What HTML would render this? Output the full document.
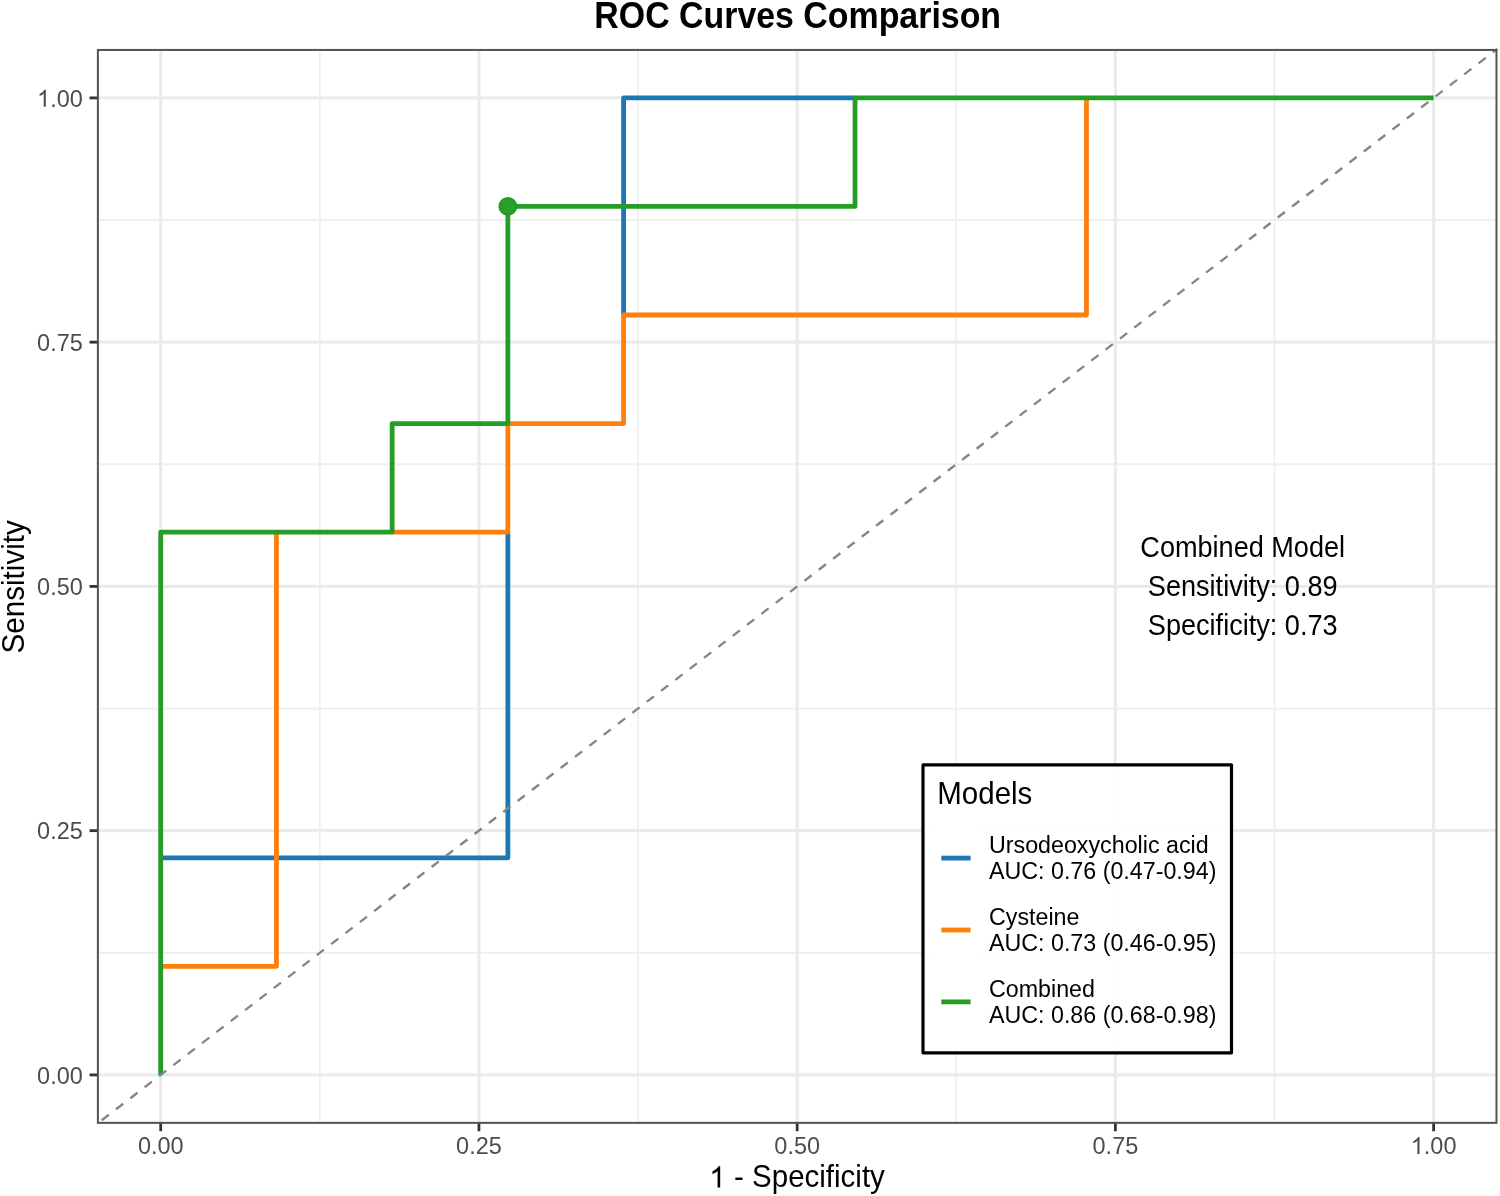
<!DOCTYPE html>
<html><head><meta charset="utf-8"><title>ROC Curves Comparison</title>
<style>html,body{margin:0;padding:0;background:#fff;}body{width:1500px;height:1196px;overflow:hidden;}svg{display:block;}text{font-family:"Liberation Sans", sans-serif;}</style></head><body>
<svg width="1500" height="1196" viewBox="0 0 1500 1196">
<rect x="0" y="0" width="1500" height="1196" fill="#ffffff"/>
<defs><filter id="soft" x="0" y="0" width="1500" height="1196" filterUnits="userSpaceOnUse"><feGaussianBlur stdDeviation="0.42"/></filter></defs>
<g filter="url(#soft)">
<g stroke="#ebebeb" fill="none">
<line x1="319.83" y1="49.05" x2="319.83" y2="1123.75" stroke-width="1.8" stroke="#efefef"/>
<line x1="97.08" y1="952.78" x2="1497.26" y2="952.78" stroke-width="1.8" stroke="#efefef"/>
<line x1="638.06" y1="49.05" x2="638.06" y2="1123.75" stroke-width="1.8" stroke="#efefef"/>
<line x1="97.08" y1="708.53" x2="1497.26" y2="708.53" stroke-width="1.8" stroke="#efefef"/>
<line x1="956.28" y1="49.05" x2="956.28" y2="1123.75" stroke-width="1.8" stroke="#efefef"/>
<line x1="97.08" y1="464.27" x2="1497.26" y2="464.27" stroke-width="1.8" stroke="#efefef"/>
<line x1="1274.51" y1="49.05" x2="1274.51" y2="1123.75" stroke-width="1.8" stroke="#efefef"/>
<line x1="97.08" y1="220.02" x2="1497.26" y2="220.02" stroke-width="1.8" stroke="#efefef"/>
<line x1="160.72" y1="49.05" x2="160.72" y2="1123.75" stroke-width="3.1"/>
<line x1="97.08" y1="1074.90" x2="1497.26" y2="1074.90" stroke-width="3.1"/>
<line x1="478.94" y1="49.05" x2="478.94" y2="1123.75" stroke-width="3.1"/>
<line x1="97.08" y1="830.65" x2="1497.26" y2="830.65" stroke-width="3.1"/>
<line x1="797.17" y1="49.05" x2="797.17" y2="1123.75" stroke-width="3.1"/>
<line x1="97.08" y1="586.40" x2="1497.26" y2="586.40" stroke-width="3.1"/>
<line x1="1115.39" y1="49.05" x2="1115.39" y2="1123.75" stroke-width="3.1"/>
<line x1="97.08" y1="342.15" x2="1497.26" y2="342.15" stroke-width="3.1"/>
<line x1="1433.62" y1="49.05" x2="1433.62" y2="1123.75" stroke-width="3.1"/>
<line x1="97.08" y1="97.90" x2="1497.26" y2="97.90" stroke-width="3.1"/>
</g>
<g fill="none" stroke-width="4.8" stroke-linejoin="round" stroke-linecap="butt">
<path d="M160.72 857.79 L507.87 857.79 L507.87 532.12 M623.59 315.01 L623.59 97.90 L855.03 97.90" stroke="#1f77b4"/>
<path d="M160.72 966.34 L276.44 966.34 L276.44 532.12 M392.16 532.12 L507.87 532.12 L507.87 423.57 L623.59 423.57 L623.59 315.01 L1086.47 315.01 L1086.47 97.90" stroke="#ff7f0e"/>
<path d="M160.72 1074.90 L160.72 532.12 L392.16 532.12 L392.16 423.57 L507.87 423.57 L507.87 206.46 L855.03 206.46 L855.03 97.90 L1433.62 97.90" stroke="#259d25"/>
</g>
<circle cx="507.87" cy="206.46" r="8.5" fill="#2ca02c" stroke="#229b22" stroke-width="1.8"/>
<line x1="97.08" y1="1123.75" x2="1497.26" y2="49.05" stroke="#858585" stroke-width="2.35" stroke-dasharray="9.04 9.04" stroke-dashoffset="-5.8"/>
<rect x="97.88" y="49.95" width="1398.59" height="1072.90" fill="none" stroke="#535353" stroke-width="2"/>
<g stroke="#333333" stroke-width="2.8">
<line x1="160.72" y1="1123.75" x2="160.72" y2="1131.25"/>
<line x1="89.58" y1="1074.90" x2="97.08" y2="1074.90"/>
<line x1="478.94" y1="1123.75" x2="478.94" y2="1131.25"/>
<line x1="89.58" y1="830.65" x2="97.08" y2="830.65"/>
<line x1="797.17" y1="1123.75" x2="797.17" y2="1131.25"/>
<line x1="89.58" y1="586.40" x2="97.08" y2="586.40"/>
<line x1="1115.39" y1="1123.75" x2="1115.39" y2="1131.25"/>
<line x1="89.58" y1="342.15" x2="97.08" y2="342.15"/>
<line x1="1433.62" y1="1123.75" x2="1433.62" y2="1131.25"/>
<line x1="89.58" y1="97.90" x2="97.08" y2="97.90"/>
</g>
<text transform="translate(160.72 1153.90) scale(1 1.015)" font-size="23.50" text-anchor="middle" fill="#4d4d4d">0.00</text>
<text transform="translate(82.80 1083.50) scale(1 1.015)" font-size="23.50" text-anchor="end" fill="#4d4d4d">0.00</text>
<text transform="translate(478.94 1153.90) scale(1 1.015)" font-size="23.50" text-anchor="middle" fill="#4d4d4d">0.25</text>
<text transform="translate(82.80 839.25) scale(1 1.015)" font-size="23.50" text-anchor="end" fill="#4d4d4d">0.25</text>
<text transform="translate(797.17 1153.90) scale(1 1.015)" font-size="23.50" text-anchor="middle" fill="#4d4d4d">0.50</text>
<text transform="translate(82.80 595.00) scale(1 1.015)" font-size="23.50" text-anchor="end" fill="#4d4d4d">0.50</text>
<text transform="translate(1115.39 1153.90) scale(1 1.015)" font-size="23.50" text-anchor="middle" fill="#4d4d4d">0.75</text>
<text transform="translate(82.80 350.75) scale(1 1.015)" font-size="23.50" text-anchor="end" fill="#4d4d4d">0.75</text>
<path transform="translate(1410.75 1153.90) scale(0.01147 -0.01147)" d="M763 0H583V1147Q518 1085 412.5 1023T223 930V1104Q374 1175 487 1276T647 1472H763Z" fill="#4d4d4d"/>
<text transform="translate(1423.82 1153.90) scale(1 1.015)" font-size="23.50" text-anchor="start" fill="#4d4d4d">.00</text>
<path transform="translate(37.06 106.70) scale(0.01147 -0.01147)" d="M763 0H583V1147Q518 1085 412.5 1023T223 930V1104Q374 1175 487 1276T647 1472H763Z" fill="#4d4d4d"/>
<text transform="translate(82.80 106.70) scale(1 1.015)" font-size="23.50" text-anchor="end" fill="#4d4d4d">.00</text>
<path transform="translate(709.19 1187.40) scale(0.01440 -0.01440)" d="M763 0H583V1147Q518 1085 412.5 1023T223 930V1104Q374 1175 487 1276T647 1472H763Z" fill="#000"/>
<text transform="translate(734.09 1187.40) scale(1 1.050)" font-size="29.50" text-anchor="start" fill="#000">- Specificity</text>
<text transform="translate(24.20 586.80) rotate(-90) scale(1 1.030)" font-size="29.60" text-anchor="middle" fill="#000">Sensitivity</text>
<text transform="translate(797.70 27.50) scale(1 1.095)" font-size="33.90" text-anchor="middle" fill="#000" font-weight="bold">ROC Curves Comparison</text>
<text transform="translate(1242.70 556.90) scale(1 1.080)" font-size="27.10" text-anchor="middle" fill="#000">Combined Model</text>
<text transform="translate(1242.70 595.90) scale(1 1.080)" font-size="27.10" text-anchor="middle" fill="#000">Sensitivity: 0.89</text>
<text transform="translate(1242.70 634.90) scale(1 1.080)" font-size="27.10" text-anchor="middle" fill="#000">Specificity: 0.73</text>
<rect x="923.0" y="764.8" width="308.5" height="288.0" fill="#ffffff" fill-opacity="0.92" stroke="none"/>
<rect x="923.0" y="764.8" width="308.5" height="288.0" fill="none" stroke="#000000" stroke-width="3.2" stroke-linejoin="round"/>
<text transform="translate(937.30 804.40) scale(1 1.050)" font-size="29.50" text-anchor="start" fill="#000">Models</text>
<rect x="938" y="821.80" width="36" height="72" fill="#ffffff"/>
<line x1="941.3" y1="858.10" x2="970.6" y2="858.10" stroke="#1f77b4" stroke-width="4.8"/>
<text transform="translate(989.00 853.40) scale(1 1.030)" font-size="23.25" text-anchor="start" fill="#000">Ursodeoxycholic acid</text>
<text transform="translate(989.00 878.70) scale(1 1.030)" font-size="23.25" text-anchor="start" fill="#000">AUC: 0.76 (0.47-0.94)</text>
<rect x="938" y="893.70" width="36" height="72" fill="#ffffff"/>
<line x1="941.3" y1="930.00" x2="970.6" y2="930.00" stroke="#ff7f0e" stroke-width="4.8"/>
<text transform="translate(989.00 925.30) scale(1 1.030)" font-size="23.25" text-anchor="start" fill="#000">Cysteine</text>
<text transform="translate(989.00 950.60) scale(1 1.030)" font-size="23.25" text-anchor="start" fill="#000">AUC: 0.73 (0.46-0.95)</text>
<rect x="938" y="965.60" width="36" height="72" fill="#ffffff"/>
<line x1="941.3" y1="1001.90" x2="970.6" y2="1001.90" stroke="#259d25" stroke-width="4.8"/>
<text transform="translate(989.00 997.20) scale(1 1.030)" font-size="23.25" text-anchor="start" fill="#000">Combined</text>
<text transform="translate(989.00 1022.50) scale(1 1.030)" font-size="23.25" text-anchor="start" fill="#000">AUC: 0.86 (0.68-0.98)</text>
</g>
</svg></body></html>
